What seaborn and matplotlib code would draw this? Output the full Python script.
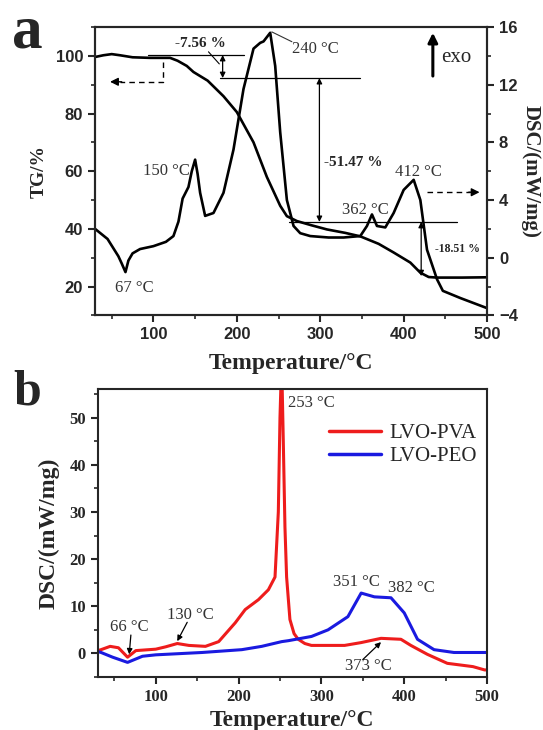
import numpy as np
import pandas as pd
import matplotlib
matplotlib.use('Agg')
import matplotlib.pyplot as plt
from matplotlib.ticker import MultipleLocator
import seaborn as sns

sns.set_style('ticks')
plt.rcParams['font.family'] = ['Liberation Serif', 'DejaVu Serif']
plt.rcParams['axes.linewidth'] = 1.5
plt.rcParams['mathtext.default'] = 'regular'

# ---- panel a: TG / DSC of the precursor ----
tg_temp = [30, 40, 50, 60, 75, 96, 120, 129, 140, 148, 165, 184, 200, 220, 236,
           252, 260, 272, 290, 308, 330, 348, 370, 388, 408, 420, 430, 440, 470, 500]
tg_val = [99.6, 100.2, 100.6, 100.2, 99.5, 99.3, 99.3, 98.3, 96.5, 94.4, 91.4, 86.0, 80.5, 70.0, 58.0,
          48.0, 44.4, 42.7, 41.2, 39.8, 38.6, 37.4, 34.8, 31.8, 28.3, 24.8, 23.3, 23.1, 23.1, 23.2]

dsc_temp = [30, 45, 58, 62, 66.5, 70, 75, 84, 100, 115, 124, 130, 135, 142, 146, 150, 153, 156,
            162, 172, 184, 196, 208, 220, 228, 232, 240, 246, 252, 260, 268, 276, 288, 310, 328,
            348, 356, 362, 368, 378, 388, 400, 412, 420, 428, 440, 447, 468, 500]
dsc_val = [2.0, 1.3, 0.1, -0.4, -1.0, -0.2, 0.3, 0.6, 0.8, 1.1, 1.5, 2.5, 4.1, 4.9, 6.0, 6.8, 5.8, 4.5,
           2.9, 3.1, 4.5, 7.5, 11.7, 14.5, 14.9, 15.0, 15.6, 13.3, 8.7, 4.0, 2.2, 1.7, 1.5, 1.4, 1.4,
           1.5, 2.2, 3.0, 2.2, 2.1, 3.1, 4.7, 5.4, 4.0, 0.55, -1.5, -2.3, -2.8, -3.5]

# ---- panel b: DSC of the two composites ----
pva_temp = [30, 34, 45, 55, 66, 76, 100, 112, 126, 140, 160, 176, 196, 208, 224, 236, 244,
            248, 250, 252, 254, 256, 258, 262, 267, 272, 280, 288, 328, 348, 372, 396, 408,
            428, 452, 483, 497, 500]
pva_val = [0.6, 0.8, 1.5, 1.2, -0.8, 0.6, 0.9, 1.4, 2.1, 1.7, 1.5, 2.5, 6.5, 9.3, 11.4, 13.5, 16.2,
           30.0, 50.0, 62.0, 45.0, 26.8, 16.2, 7.2, 4.2, 3.0, 2.1, 1.7, 1.7, 2.3, 3.2, 3.0, 1.7,
           -0.2, -2.1, -2.8, -3.5, -3.5]

peo_temp = [30, 34, 48, 66, 84, 100, 156, 204, 228, 252, 260, 288, 308, 332, 348, 364, 384,
            400, 416, 436, 460, 500]
peo_val = [0.4, 0.2, -0.8, -1.9, -0.6, -0.3, 0.2, 0.8, 1.5, 2.5, 2.7, 3.6, 5.0, 7.8, 12.8, 12.0, 11.8,
           8.6, 3.0, 0.8, 0.2, 0.2]

sans = ['Liberation Sans', 'DejaVu Sans']
grey = '#333333'

fig = plt.figure(figsize=(5.43, 7.30), dpi=100)

# ================= panel a =================
ax_a = fig.add_axes([0.175, 0.568, 0.722, 0.395])
ax_d = ax_a.twinx()

sns.lineplot(x=tg_temp, y=tg_val, ax=ax_a, color='black', lw=1.9, sort=False, estimator=None)
sns.lineplot(x=dsc_temp, y=dsc_val, ax=ax_d, color='black', lw=1.9, sort=False, estimator=None)

ax_a.set_xlim(30, 500)
ax_a.set_ylim(10, 110)
ax_d.set_ylim(-4, 16)
ax_a.xaxis.set_major_locator(MultipleLocator(100))
ax_a.xaxis.set_minor_locator(MultipleLocator(50))
ax_a.yaxis.set_major_locator(MultipleLocator(20))
ax_a.yaxis.set_minor_locator(MultipleLocator(10))
ax_d.yaxis.set_major_locator(MultipleLocator(4))
ax_d.yaxis.set_minor_locator(MultipleLocator(2))
ax_a.set_xticks([100, 200, 300, 400, 500])

for ax in (ax_a, ax_d):
    ax.tick_params(which='major', direction='out', length=5, width=1.5)
    ax.tick_params(which='minor', direction='out', length=3, width=1.2)
    for lab in ax.get_xticklabels() + ax.get_yticklabels():
        lab.set_family(sans)
        lab.set_fontweight('bold')
        lab.set_fontsize(12)
ax_a.tick_params(top=False, right=False)
ax_d.tick_params(top=False, left=False)

ax_a.set_xlabel('Temperature/°C', fontsize=17, fontweight='bold')
ax_a.set_ylabel('TG/%', fontsize=14, fontweight='bold')
ax_d.set_ylabel('DSC/(mW/mg)', fontsize=15, fontweight='bold', rotation=270, va='bottom')
ax_a.xaxis.set_label_coords(0.5, -0.13)
ax_a.yaxis.set_label_coords(-0.122, 0.5)
ax_d.yaxis.set_label_coords(1.085, 0.5)

# step guide lines (in TG units)
ax_a.plot([93, 208], [100.3, 100.3], color='black', lw=0.9)
ax_a.plot([180, 348], [92.3, 92.3], color='black', lw=0.9)
ax_a.plot([262, 464], [42.4, 42.4], color='black', lw=0.9)
dbl = dict(arrowstyle='<|-|>', color='black', lw=0.9, mutation_scale=8, shrinkA=0, shrinkB=0)
ax_a.annotate('', xy=(183, 100.3), xytext=(183, 92.3), arrowprops=dbl)
ax_a.annotate('', xy=(299, 92.3), xytext=(299, 42.4), arrowprops=dbl)
ax_a.annotate('', xy=(421, 42.4), xytext=(421, 23.6), arrowprops=dbl)
ax_a.plot([166, 179], [101.4, 97.2], color='black', lw=0.8)

ax_a.text(126, 104.2, '-7.56 %', fontsize=11, fontweight='bold', va='center')
ax_a.text(304, 63, '-51.47 %', fontsize=11, fontweight='bold', va='center')
ax_a.text(437, 32.9, '-18.51 %', fontsize=8.5, fontweight='bold', va='center')

# peak labels
ax_a.plot([242, 266], [108.3, 104.9], color=grey, lw=0.8)
ax_a.text(266, 102.4, '240 °C', fontsize=12, color=grey, va='center')
ax_a.text(87, 60, '150 °C', fontsize=12, color=grey, va='center')
ax_a.text(54, 19.6, '67 °C', fontsize=12, color=grey, va='center')
ax_a.text(326, 46.7, '362 °C', fontsize=12, color=grey, va='center')
ax_a.text(390, 59.6, '412 °C', fontsize=12, color=grey, va='center')

# axis pointers
ax_a.plot([111, 111, 60], [97.9, 91, 91], color='black', lw=1.0, ls=(0, (4, 3)))
ax_a.annotate('', xy=(48, 91), xytext=(62, 91),
              arrowprops=dict(arrowstyle='-|>', color='black', lw=1.0, mutation_scale=12,
                              shrinkA=0, shrinkB=0))
ax_a.plot([428, 480], [52.7, 52.7], color='black', lw=1.0, ls=(0, (4, 3)))
ax_a.annotate('', xy=(491, 52.7), xytext=(478, 52.7),
              arrowprops=dict(arrowstyle='-|>', color='black', lw=1.0, mutation_scale=12,
                              shrinkA=0, shrinkB=0))
ax_a.annotate('', xy=(435, 108), xytext=(435, 93),
              arrowprops=dict(arrowstyle='-|>', color='black', lw=2.2, mutation_scale=14,
                              shrinkA=0, shrinkB=0))
ax_a.text(445, 99.5, 'exo', fontsize=15, va='center')

fig.text(0.022, 0.955, 'a', fontsize=44, fontweight='bold', va='center')

# ================= panel b =================
ax_b = fig.add_axes([0.180, 0.0726, 0.717, 0.394])
df_b = pd.concat([
    pd.DataFrame({'T': pva_temp, 'DSC': pva_val, 'sample': 'LVO-PVA'}),
    pd.DataFrame({'T': peo_temp, 'DSC': peo_val, 'sample': 'LVO-PEO'}),
])
sns.lineplot(data=df_b, x='T', y='DSC', hue='sample', palette=['#ee1c1c', '#1a1ae0'],
             lw=2.2, sort=False, estimator=None, ax=ax_b)

ax_b.set_xlim(30, 500)
ax_b.set_xticks([100, 200, 300, 400, 500])
ax_b.xaxis.set_minor_locator(MultipleLocator(50))
ax_b.yaxis.set_major_locator(MultipleLocator(10))
ax_b.yaxis.set_minor_locator(MultipleLocator(5))
ax_b.set_ylim(-5, 56)
ax_b.tick_params(which='major', direction='out', length=5, width=1.5, labelsize=12)
ax_b.tick_params(which='minor', direction='out', length=3, width=1.2)
for lab in ax_b.get_xticklabels() + ax_b.get_yticklabels():
    lab.set_fontweight('bold')
ax_b.set_xlabel('Temperature/°C', fontsize=17, fontweight='bold')
ax_b.set_ylabel('DSC/(mW/mg)', fontsize=17, fontweight='bold')
ax_b.xaxis.set_label_coords(0.5, -0.115)
ax_b.yaxis.set_label_coords(-0.098, 0.5)

leg = ax_b.legend(loc='upper right', bbox_to_anchor=(0.995, 0.91), frameon=False,
                  fontsize=15, handlelength=2.5, handletextpad=0.4, labelspacing=0.15,
                  borderaxespad=0)
for line in leg.get_lines():
    line.set_linewidth(2.5)

ax_b.text(260, 53.2, '253 °C', fontsize=12, color=grey, va='center')
ax_b.text(314, 15.2, '351 °C', fontsize=12, color=grey, va='center')
ax_b.text(381, 13.9, '382 °C', fontsize=12, color=grey, va='center')
ax_b.text(328, -2.7, '373 °C', fontsize=12, color=grey, va='center')
ax_b.text(45, 5.7, '66 °C', fontsize=12, color=grey, va='center')
ax_b.text(114, 8.2, '130 °C', fontsize=12, color=grey, va='center')
arr = dict(arrowstyle='-|>', color='black', lw=0.9, mutation_scale=8, shrinkA=0, shrinkB=0)
ax_b.annotate('', xy=(372, 2.4), xytext=(350, -1.3), arrowprops=arr)
ax_b.annotate('', xy=(68, -0.2), xytext=(70, 3.9), arrowprops=arr)
ax_b.annotate('', xy=(126, 2.6), xytext=(138, 6.6), arrowprops=arr)

fig.text(0.025, 0.463, 'b', fontsize=36, fontweight='bold', va='center')

fig.savefig('out.png', dpi=100)
